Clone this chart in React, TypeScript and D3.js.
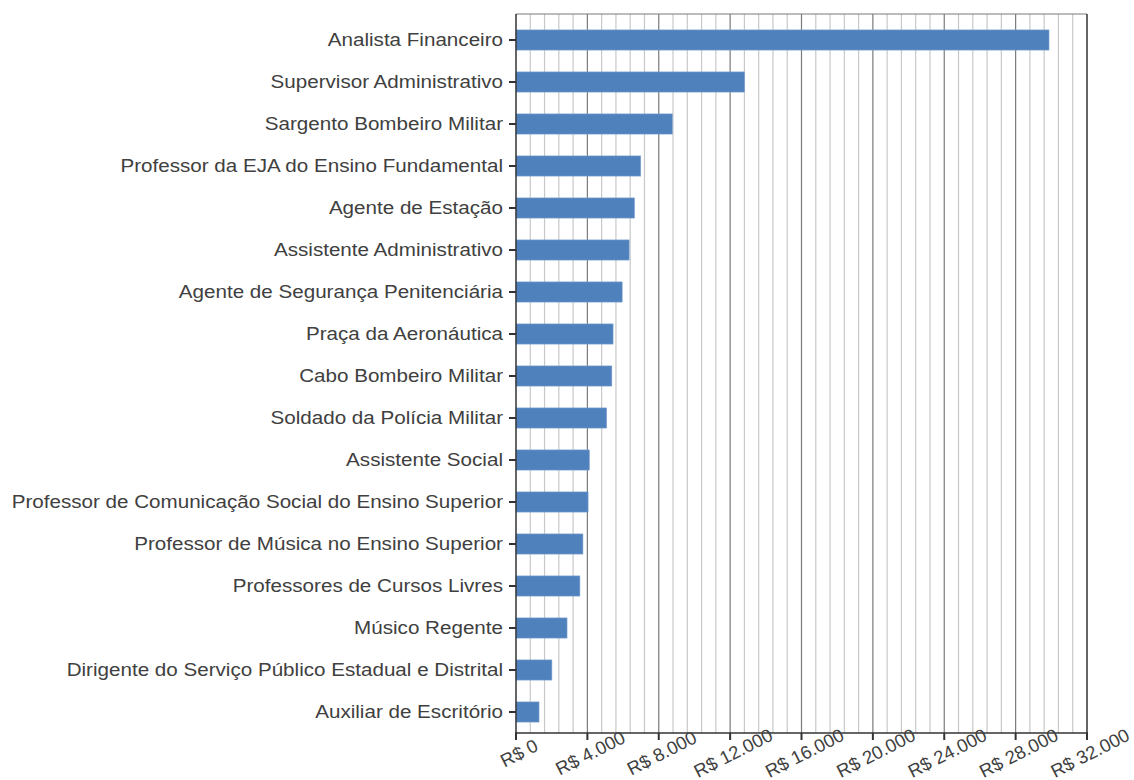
import React from 'react';
import * as d3 from 'd3';

const categories = [
  'Analista Financeiro',
  'Supervisor Administrativo',
  'Sargento Bombeiro Militar',
  'Professor da EJA do Ensino Fundamental',
  'Agente de Estação',
  'Assistente Administrativo',
  'Agente de Segurança Penitenciária',
  'Praça da Aeronáutica',
  'Cabo Bombeiro Militar',
  'Soldado da Polícia Militar',
  'Assistente Social',
  'Professor de Comunicação Social do Ensino Superior',
  'Professor de Música no Ensino Superior',
  'Professores de Cursos Livres',
  'Músico Regente',
  'Dirigente do Serviço Público Estadual e Distrital',
  'Auxiliar de Escritório'
];

const salaries = [
  29870, 12810, 8760, 6990, 6640, 6340, 5950, 5440, 5370, 5080,
  4110, 4040, 3750, 3580, 2860, 2010, 1290
];

const majorTicks = [0, 4000, 8000, 12000, 16000, 20000, 24000, 28000, 32000];
const minorTicks = d3.range(0, 32001, 800);

const fmt = (v: number) => 'R$ ' + (v === 0 ? '0' : d3.format(',')(v).replace(/,/g, '.'));

const W = 1134;
const H = 780;
const left = 516;
const right = 1087;
const top = 14;
const bottom = 733;
const FONT = '"Liberation Sans", Arial, sans-serif';
const TEXT = '#404040';
const STRETCH = 1.114; // glyphs in the original are a bit wider than Arial

export default function App() {
  const x = d3.scaleLinear().domain([0, 32000]).range([left, right]);
  const y = d3
    .scaleBand<string>()
    .domain(categories)
    .range([19, bottom])
    .paddingInner(0.52)
    .paddingOuter(0.26);

  return (
    <div style={{position: 'absolute', left: 0, top: 0}}>
      <svg width={W} height={H} style={{display: 'block', background: '#fff'}}>
        {/* grid */}
        {minorTicks.filter(t => t % 4000 !== 0).map(t => (
          <line key={'m' + t} x1={x(t)} x2={x(t)} y1={top} y2={bottom}
            stroke="#c8c8c8" strokeWidth={1.2} />
        ))}
        {majorTicks.slice(1, -1).map(t => (
          <line key={'M' + t} x1={x(t)} x2={x(t)} y1={top} y2={bottom}
            stroke="#7a7a7a" strokeWidth={1.2} />
        ))}
        <line x1={left} x2={right} y1={top} y2={top} stroke="#7a7a7a" strokeWidth={1.2} />
        <line x1={right} x2={right} y1={top} y2={bottom} stroke="#333" strokeWidth={1.5} />

        {/* bars */}
        {categories.map((c, i) => (
          <rect key={c} x={x(0)} y={y(c)} width={x(salaries[i]) - x(0)}
            height={y.bandwidth()} fill="#4f81bd" stroke="#7ea2d0" strokeWidth={0.6} />
        ))}

        {/* y axis */}
        <line x1={left} x2={left} y1={top} y2={bottom + 6} stroke="#333" strokeWidth={1.5} />
        {categories.map(c => {
          const cy = (y(c) as number) + y.bandwidth() / 2;
          return (
            <g key={'l' + c}>
              <line x1={left - 7} x2={left} y1={cy} y2={cy} stroke="#333" strokeWidth={2} />
              <text transform={`translate(503,${cy}) scale(${STRETCH},1)`} dy="0.35em"
                textAnchor="end" fontFamily={FONT} fontSize={18.5} fill={TEXT}>{c}</text>
            </g>
          );
        })}

        {/* x axis */}
        <line x1={left - 1} x2={right + 1} y1={bottom} y2={bottom} stroke="#333" strokeWidth={1.5} />
        {majorTicks.map(t => (
          <g key={'x' + t}>
            <line x1={x(t)} x2={x(t)} y1={bottom} y2={bottom + 7} stroke="#333" strokeWidth={2} />
            <text
              transform={`translate(${x(t) + 3},${bottom + 20}) rotate(-27)`}
              textAnchor="middle" dy="0.35em" fontFamily={FONT} fontSize={18.5} fill={TEXT}>
              {fmt(t)}
            </text>
          </g>
        ))}
      </svg>
    </div>
  );
}
